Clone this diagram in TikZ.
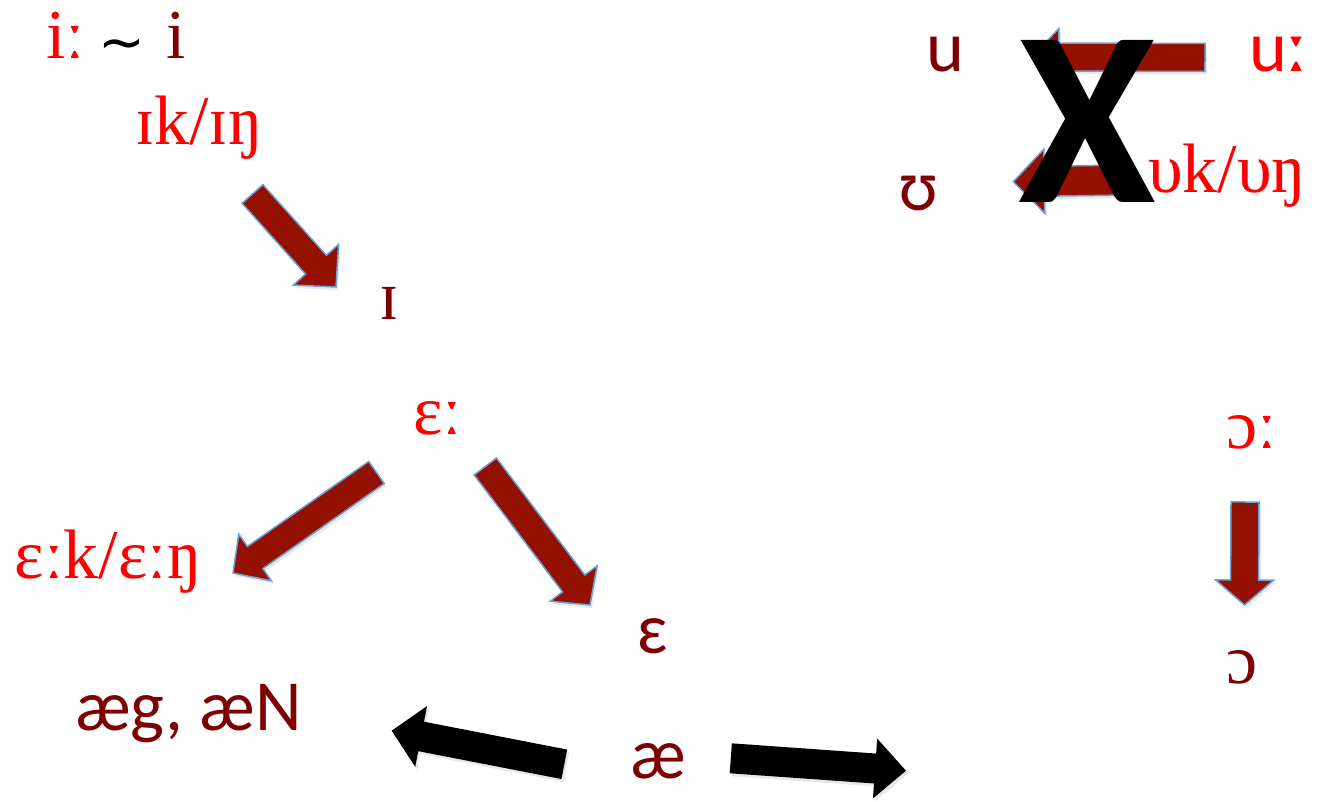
\documentclass[tikz,border=0pt]{standalone}
\usepackage{fontspec}
\setmainfont{Liberation Serif}
\newfontfamily\sansf{Carlito}
\newfontfamily\symf{DejaVu Sans}
\usetikzlibrary{calc,shadows}
\definecolor{ipared}{HTML}{FF0000}
\definecolor{ipadark}{HTML}{7F0000}
\definecolor{arrowfill}{HTML}{941100}
\definecolor{arrowedge}{HTML}{6A9FD8}
\newcommand{\barrow}[6]{%
  \coordinate (bnk) at ($(#3)!#6!(#2)$);
  \path[#1] ($(#2)!#4!90:(#3)$) -- ($(bnk)!#4!90:(#3)$) -- ($(bnk)!#5!90:(#3)$) -- (#3)
    -- ($(bnk)!#5!-90:(#3)$) -- ($(bnk)!#4!-90:(#3)$) -- ($(#2)!#4!-90:(#3)$) -- cycle;
}
\tikzset{
  lbl/.style={anchor=base west, inner sep=0pt, outer sep=0pt, font=\fontsize{70}{84}\selectfont},
  redlbl/.style={lbl, text=ipared},
  darklbl/.style={lbl, text=ipadark},
  sanslbl/.style={lbl, text=ipadark, font=\fontsize{72}{86}\selectfont\sansf},
  redarrow/.style={fill=arrowfill, draw=arrowedge, line width=1.5pt, line join=miter,
    drop shadow={opacity=0.18, shadow xshift=2pt, shadow yshift=-3pt}},
  blackarrow/.style={fill=black,
    drop shadow={opacity=0.18, shadow xshift=2pt, shadow yshift=-3pt}}
}
\begin{document}
\begin{tikzpicture}[x=1pt,y=-1pt]
\useasboundingbox (0,0) rectangle (1318,802);
% labels
\node[redlbl] (iilong) at (46,59) {iː};
\node[anchor=base, inner sep=0pt, font=\fontsize{56}{56}\selectfont\symf] (tilde) at (122,62) {∼};
\node[darklbl] (ishort) at (166,59) {i};
\node[redlbl] (ik) at (135,145) {ɪk/ɪŋ};
\node[darklbl] (ish) at (379,320) {ɪ};
\node[redlbl] (eelong) at (413,435) {ɛː};
\node[redlbl] (ek) at (15,578) {ɛːk/ɛːŋ};
\node[sanslbl] (eps) at (637,653) {ɛ};
\node[redlbl] (oolong) at (1226,448) {ɔː};
\node[darklbl] (oo) at (1226,683) {ɔ};
\node[sanslbl] (u) at (926,72) {u};
\node[sanslbl, text=ipared] (ulong) at (1249,72) {uː};
\node[sanslbl] (ups) at (898,211) {ʊ};
\node[redlbl] (uk) at (1148,193) {υk/υŋ};
\node[sanslbl] (aeg) at (75,730) {æg, æN};
\node[sanslbl] (ae) at (630,778) {æ};
% arrow end points
\coordinate (a1t) at (252.5,194);  \coordinate (a1h) at (336,287);
\coordinate (a2t) at (376.5,472.5); \coordinate (a2h) at (233,573);
\coordinate (a3t) at (485.3,466.5); \coordinate (a3h) at (590,605);
\coordinate (a4t) at (1245,502);   \coordinate (a4h) at (1244.5,605);
\coordinate (a5t) at (1205,57.5);  \coordinate (a5h) at (1031.7,57);
\coordinate (a6t) at (1127,180);   \coordinate (a6h) at (1013.3,181.7);
\coordinate (b1t) at (564.3,764.3); \coordinate (b1h) at (391.7,730.7);
\coordinate (b2t) at (730.8,758.3); \coordinate (b2h) at (906,770.7);
% arrows
\barrow{redarrow}{a1t}{a1h}{14pt}{30.5pt}{30pt}
\barrow{redarrow}{a2t}{a2h}{13.5pt}{28.5pt}{27pt}
\barrow{redarrow}{a3t}{a3h}{14pt}{29.4pt}{27pt}
\barrow{redarrow}{a4t}{a4h}{14pt}{29pt}{25pt}
\barrow{redarrow}{a5t}{a5h}{14pt}{28.5pt}{27pt}
\barrow{redarrow}{a6t}{a6h}{15pt}{32pt}{31pt}
\barrow{blackarrow}{b1t}{b1h}{15pt}{31pt}{30pt}
\barrow{blackarrow}{b2t}{b2h}{15pt}{30pt}{31pt}
% cross
\node[anchor=base, inner sep=0pt, font=\fontsize{250}{250}\selectfont\sansf\bfseries] (cross) at (1087,203) {X};
\end{tikzpicture}
\end{document}
